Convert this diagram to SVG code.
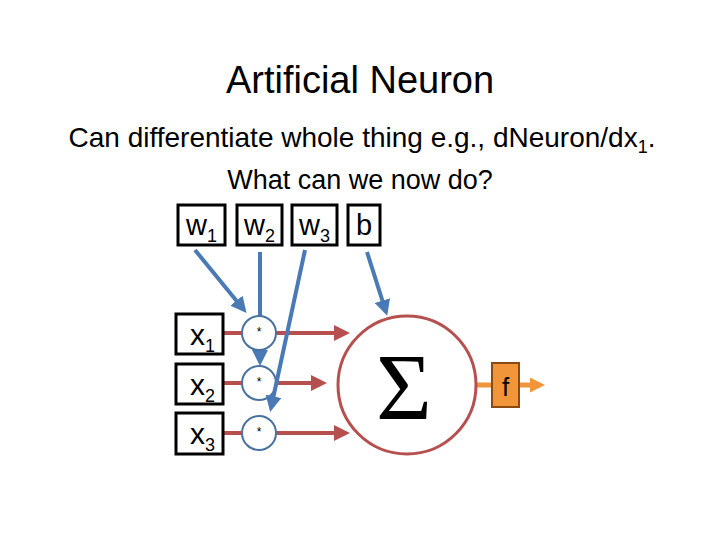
<svg xmlns="http://www.w3.org/2000/svg" width="720" height="540" viewBox="0 0 720 540">
<style>
.t{font-family:"Liberation Sans",Arial,sans-serif;fill:#000}
.box{fill:#fff;stroke:#000;stroke-width:3}
.blue{stroke:#4a7ab5;stroke-width:4;fill:none}
.red{stroke:#b5504e;stroke-width:4;fill:none}
.mul{fill:#fff;stroke:#4a72a0;stroke-width:2}
</style>
<defs>
<marker id="ab" markerWidth="4" markerHeight="4" refX="3" refY="2" orient="auto" markerUnits="strokeWidth"><path d="M0,0 L4,2 L0,4 Z" fill="#4a7ab5"/></marker>
<marker id="ar" markerWidth="4" markerHeight="4" refX="3" refY="2" orient="auto" markerUnits="strokeWidth"><path d="M0,0 L4,2 L0,4 Z" fill="#b5504e"/></marker>
<marker id="ao" markerWidth="3" markerHeight="3" refX="2" refY="1.5" orient="auto" markerUnits="strokeWidth"><path d="M0,0 L3,1.5 L0,3 Z" fill="#f0953a"/></marker>
</defs>
<rect width="720" height="540" fill="#fff"/>
<text class="t" x="360" y="93" font-size="38" text-anchor="middle">Artificial Neuron</text>
<text class="t" x="362" y="147" font-size="28" text-anchor="middle">Can differentiate whole thing e.g., dNeuron/dx<tspan font-size="18" dy="6">1</tspan><tspan dy="-6">.</tspan></text>
<text class="t" x="360" y="189" font-size="27" text-anchor="middle">What can we now do?</text>
<g id="connectors">
<line class="red" x1="223" y1="333" x2="346" y2="333" marker-end="url(#ar)"/>
<line class="red" x1="223" y1="383" x2="323" y2="383" marker-end="url(#ar)"/>
<line class="red" x1="223" y1="433" x2="346" y2="433" marker-end="url(#ar)"/>
<line class="blue" x1="195" y1="250" x2="244" y2="310" marker-end="url(#ab)"/>
<line class="blue" x1="260" y1="252" x2="260" y2="362" marker-end="url(#ab)"/>
<line class="blue" x1="367" y1="252" x2="386" y2="312" marker-end="url(#ab)"/>
<line x1="476" y1="385" x2="540" y2="385" stroke="#f0953a" stroke-width="5" marker-end="url(#ao)"/>
</g>
<g id="mul1"><circle class="mul" cx="259" cy="333" r="17"/><text class="t" x="259" y="336" font-size="12" text-anchor="middle">*</text></g>
<g id="mul2"><circle class="mul" cx="259" cy="383" r="17"/><text class="t" x="259" y="386" font-size="12" text-anchor="middle">*</text></g>
<g id="mul3"><circle class="mul" cx="259" cy="433" r="17"/><text class="t" x="259" y="436" font-size="12" text-anchor="middle">*</text></g>
<g id="w3conn"><line class="blue" x1="305" y1="250" x2="271" y2="408" marker-end="url(#ab)"/></g>
<g id="w1"><rect class="box" x="178" y="205" width="47" height="40"/><text class="t" x="186" y="235" font-size="29">w<tspan font-size="18" dy="7">1</tspan></text></g>
<g id="w2"><rect class="box" x="237" y="205" width="45" height="40"/><text class="t" x="244" y="235" font-size="29">w<tspan font-size="18" dy="7">2</tspan></text></g>
<g id="w3"><rect class="box" x="292" y="205" width="45" height="40"/><text class="t" x="299" y="235" font-size="29">w<tspan font-size="18" dy="7">3</tspan></text></g>
<g id="b"><rect class="box" x="348" y="205" width="32" height="40"/><text class="t" x="364" y="235" font-size="29" text-anchor="middle">b</text></g>
<g id="x1"><rect class="box" x="176" y="314" width="47" height="40"/><text class="t" x="190" y="345" font-size="30">x<tspan font-size="18" dy="7">1</tspan></text></g>
<g id="x2"><rect class="box" x="176" y="364" width="47" height="40"/><text class="t" x="190" y="395" font-size="30">x<tspan font-size="18" dy="7">2</tspan></text></g>
<g id="x3"><rect class="box" x="176" y="413" width="47" height="41"/><text class="t" x="190" y="444" font-size="30">x<tspan font-size="18" dy="7">3</tspan></text></g>
<g id="sum"><circle cx="407" cy="385" r="69" fill="#fff" stroke="#b5504e" stroke-width="3"/><text x="404" y="420" font-family="'Liberation Serif','Times New Roman',serif" font-size="96" text-anchor="middle" fill="#000">Σ</text></g>
<g id="f"><rect x="492" y="363" width="27" height="44" fill="#f0953a" stroke="#8a4a10" stroke-width="2"/><text class="t" x="505.5" y="396" font-size="26" text-anchor="middle">f</text></g>
</svg>
